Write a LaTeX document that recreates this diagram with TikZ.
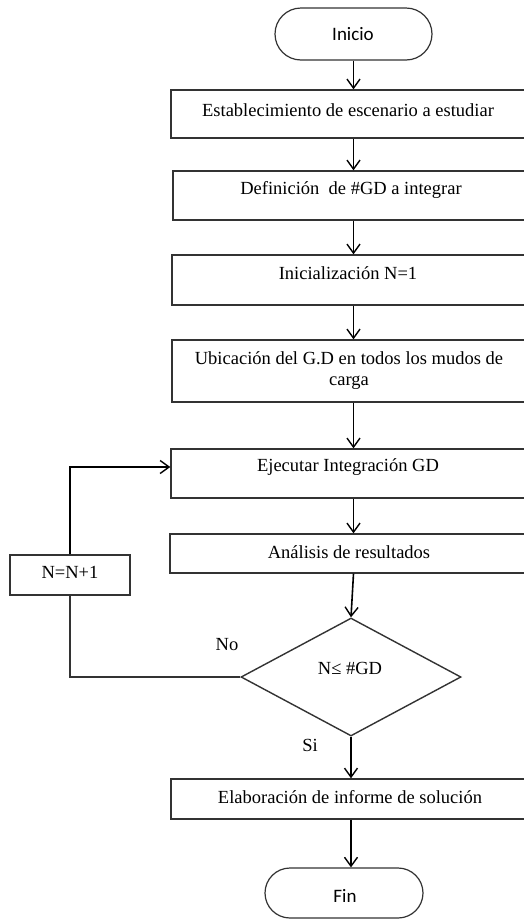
\documentclass[tikz,border=0pt]{standalone}
\usepackage{fontspec}
\setmainfont{Liberation Serif}
\newfontfamily\calib{Carlito}
\usetikzlibrary{arrows.meta,shapes.geometric,shapes.misc,calc}
\begin{document}
\begin{tikzpicture}[x=1pt,y=-1pt,
 box/.style={draw=black!80, line width=1.4pt, rectangle, inner sep=0pt},
 term/.style={draw=black!80, line width=1.2pt, rounded rectangle, inner sep=0pt},
 ttxt/.style={font=\calib\fontsize{19}{22}\selectfont, inner sep=0pt},
 txt/.style={font=\fontsize{18.5}{22}\selectfont, inner sep=0pt, align=center},
 arr/.style={-{Straight Barb[length=9pt,width=13pt,line width=1.4pt]}, line width=1.6pt},
 ln/.style={line width=1.4pt, draw=black!80}]
\clip (0,0) rectangle (524,919);
\fill[white] (0,0) rectangle (524,919);
% terminals
\node[term, minimum width=157pt, minimum height=52pt] (inicio) at (353.5,34) {};
\node[ttxt] (tini) at (353,34) {Inicio};
\node[term, minimum width=158pt, minimum height=50pt] (fin) at (344,893) {};
\node[ttxt] (tfin) at (345,896) {Fin};
% boxes
\node[box, minimum width=357pt, minimum height=48pt] (b1) at (349.5,114) {};
\node[txt] (t1) at (348,110) {Establecimiento de escenario a estudiar};
\node[box, minimum width=355pt, minimum height=49pt] (b2) at (350.5,195.5) {};
\node[txt] (t2) at (351,190) {Definición\ \ de \#GD a integrar};
\node[box, minimum width=356pt, minimum height=50pt] (b3) at (350,280) {};
\node[txt] (t3) at (348,273) {Inicialización N=1};
\node[box, minimum width=356pt, minimum height=62pt] (b4) at (350,371) {};
\node[txt] (t4a) at (349,358) {Ubicación del G.D en todos los mudos de};
\node[txt] (t4b) at (349,383) {carga};
\node[box, minimum width=357pt, minimum height=49pt] (b5) at (349.5,473.5) {};
\node[txt] (t5) at (348,467) {Ejecutar Integración GD};
\node[box, minimum width=358pt, minimum height=39pt] (b6) at (349,553.5) {};
\node[txt] (t6) at (349,552) {Análisis de resultados};
\node[box, minimum width=120pt, minimum height=40pt] (b7) at (70,575) {};
\node[txt] (t7) at (70,572) {N=N+1};
\node[draw=black!80, line width=1.4pt, diamond, inner sep=0pt, minimum width=220pt, minimum height=118pt] (d) at (351,677) {};
\node[txt] (td) at (350,668) {N≤ \#GD};
\node[box, minimum width=357pt, minimum height=40pt] (b8) at (349.5,799) {};
\node[txt] (t8) at (350,797) {Elaboración de informe de solución};
% labels
\node[txt] (no) at (227,645) {No};
\node[txt] (si) at (310,745) {Si};
% connectors
\draw[arr] (inicio.south) -- (inicio |- b1.north);
\draw[arr] (inicio |- b1.south) -- (inicio |- b2.north);
\draw[arr] (inicio |- b2.south) -- (inicio |- b3.north);
\draw[arr] (inicio |- b3.south) -- (inicio |- b4.north);
\draw[arr] (inicio |- b4.south) -- (inicio |- b5.north);
\draw[arr] (inicio |- b5.south) -- (inicio |- b6.north);
\draw[arr] (inicio |- b6.south) -- (d.north);
\draw[arr] (d.south) -- (d.south |- b8.north);
\draw[arr] (d.south |- b8.south) -- (d.south |- fin.north);
\draw[ln] (d.west) -| (b7.south);
\draw[arr] (b7.north) |- (t5 -| b5.west);
\end{tikzpicture}
\end{document}
